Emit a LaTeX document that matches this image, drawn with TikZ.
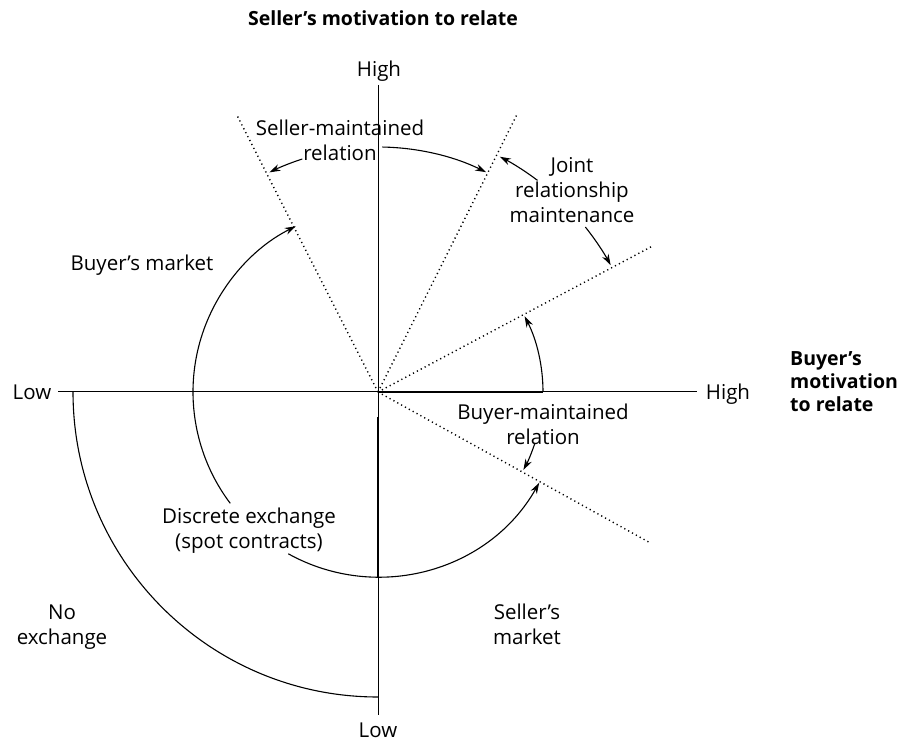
\documentclass[tikz,border=0pt]{standalone}
\usepackage{fontspec}
\setmainfont{Open Sans}
\usetikzlibrary{arrows.meta,calc}
\begin{document}
\begin{tikzpicture}[x=1pt,y=1pt,
  lbl/.style={font=\fontsize{20.5}{25}\selectfont, align=center, inner sep=0pt},
  ttl/.style={font=\bfseries\fontsize{19.5}{23}\selectfont, inner sep=0pt},
  axisline/.style={line width=1pt},
  boldseg/.style={line width=2pt},
  ray/.style={line width=1.4pt, dash pattern=on 1.2pt off 3.2pt},
  arcline/.style={line width=1.1pt},
  tip/.style={-{Stealth[length=11pt,width=7pt]}}]
\useasboundingbox (0,0) rectangle (907,745);
\coordinate (C) at (378,353);
% axes
\node[lbl] (ytop) at (379,674) {High};
\node[lbl] (ybot) at (378,15) {Low};
\node[lbl] (xl) at (32,353) {Low};
\node[lbl] (xr) at (728,351) {High};
\coordinate (vt) at (378,660);
\coordinate (vb) at (378,30);
\coordinate (hl) at (58,353);
\coordinate (hr) at (697,353);
\draw[axisline] (vt) -- (vb);
\draw[axisline] (hl) -- (hr);
\coordinate (hb) at (543,353);
\coordinate (vb1) at (378,328);
\coordinate (vb2) at (378,168);
\draw[boldseg] (C) -- (hb);
\draw[boldseg] (vb1) -- (vb2);
% titles
\node[ttl] (title) at (383,727) {Seller’s motivation to relate};
\node[ttl, align=left, anchor=west] (btitle) at (790,363) {Buyer’s\\motivation\\to relate};
% rays
\coordinate (r1) at ($(C)+(117:310)$);
\coordinate (r2) at ($(C)+(63.4:310)$);
\coordinate (r3) at ($(C)+(28:311)$);
\coordinate (r4) at ($(C)+(-29:311)$);
\draw[ray] (C) -- (r1);
\draw[ray] (C) -- (r2);
\draw[ray] (C) -- (r3);
\draw[ray] (C) -- (r4);
% seller-maintained relation
\node[lbl] (smr) at (340,605) {Seller-maintained\\relation};
\draw[arcline,tip] ($(C)+(108:245)$) arc[start angle=108,end angle=116.3,radius=245];
\draw[arcline,tip] ($(C)+(89:245)$) arc[start angle=89,end angle=63.8,radius=245];
% joint
\node[lbl] (jrm) at (572,555) {Joint\\relationship\\maintenance};
\draw[arcline,tip] ($(C)+(53:265)$) arc[start angle=53,end angle=62.6,radius=265];
\draw[arcline,tip] ($(C)+(38.5:265)$) arc[start angle=38.5,end angle=28.6,radius=265];
% buyer-maintained
\node[lbl] (bmr) at (543,321) {Buyer-maintained\\relation};
\draw[arcline,tip] ($(C)+(0:165)$) arc[start angle=0,end angle=27.3,radius=165];
\draw[arcline,tip] ($(C)+(-18:165)$) arc[start angle=-18,end angle=-28.2,radius=165];
% buyer's market / discrete exchange circle
\node[lbl] (bm) at (142,480) {Buyer’s market};
\node[lbl] (de) at (249,214) {Discrete exchange\\(spot contracts)};
\draw[arcline,tip] ($(C)+(217:185)$) arc[start angle=217,end angle=116.4,radius=185];
\draw[arcline,tip] ($(C)+(241:185)$) arc[start angle=241,end angle=330.6,radius=185];
% no exchange
\draw[arcline] (73,353) arc[start angle=180,end angle=270,radius=305];
\node[lbl] (ne) at (62,118) {No\\exchange};
\node[lbl] (sm) at (527,121) {Seller’s\\market};
\end{tikzpicture}
\end{document}
